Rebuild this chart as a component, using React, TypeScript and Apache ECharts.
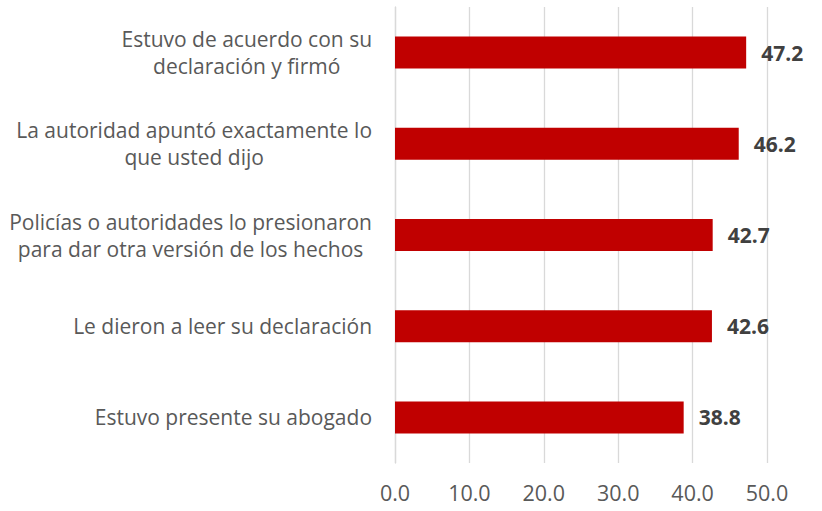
import React, { useEffect, useRef } from "react";
import * as echarts from "echarts";

const categories = [
  "Estuvo de acuerdo con su\ndeclaración y firmó",
  "La autoridad apuntó exactamente lo\nque usted dijo",
  "Policías o autoridades lo presionaron\npara dar otra versión de los hechos",
  "Le dieron a leer su declaración",
  "Estuvo presente su abogado",
];
const values = [47.2, 46.2, 42.7, 42.6, 38.8];
const axisMin = 0;
const axisMax = 50;
const axisStep = 10;

const FONT = "'Open Sans', sans-serif";

export default function App() {
  const ref = useRef<HTMLDivElement>(null);
  useEffect(() => {
    if (!ref.current) return;
    const chart = echarts.init(ref.current, undefined, { renderer: "svg" });
    chart.setOption({
      animation: false,
      backgroundColor: "#ffffff",
      grid: { left: 395, right: 55, top: 7, bottom: 48, containLabel: false },
      xAxis: {
        type: "value",
        min: axisMin,
        max: axisMax,
        interval: axisStep,
        axisLine: { show: false },
        axisTick: { show: false },
        splitLine: { show: true, lineStyle: { color: "#d9d9d9", width: 1.3 } },
        axisLabel: {
          formatter: (v: number) => v.toFixed(1),
          color: "#595959",
          fontFamily: FONT,
          fontSize: 21.5,
          margin: 18,
        },
      },
      yAxis: {
        type: "category",
        data: categories,
        inverse: true,
        axisLine: { show: true, lineStyle: { color: "#d9d9d9", width: 1.3 } },
        axisTick: { show: false },
        axisLabel: {
          color: "#595959",
          fontFamily: FONT,
          fontSize: 21,
          lineHeight: 27,
          margin: 23,
          align: "right",
          formatter: (v: string) =>
            v
              .split("\n")
              .map((s) => `{c|${s}}`)
              .join("\n"),
          rich: {
            c: {
              align: "center",
              color: "#595959",
              fontFamily: FONT,
              fontSize: 21,
              lineHeight: 27,
            },
          },
        },
      },
      series: [
        {
          type: "bar",
          data: values,
          barWidth: 32,
          itemStyle: { color: "#c00000" },
          label: {
            show: true,
            position: "right",
            distance: 15,
            formatter: (p: any) => p.value.toFixed(1),
            color: "#404040",
            fontFamily: FONT,
            fontWeight: "bold",
            fontSize: 21,
          },
        },
      ],
    });
    return () => chart.dispose();
  }, []);
  return <div ref={ref} style={{ width: 822, height: 511, position: "absolute", left: 0, top: 0 }} />;
}
